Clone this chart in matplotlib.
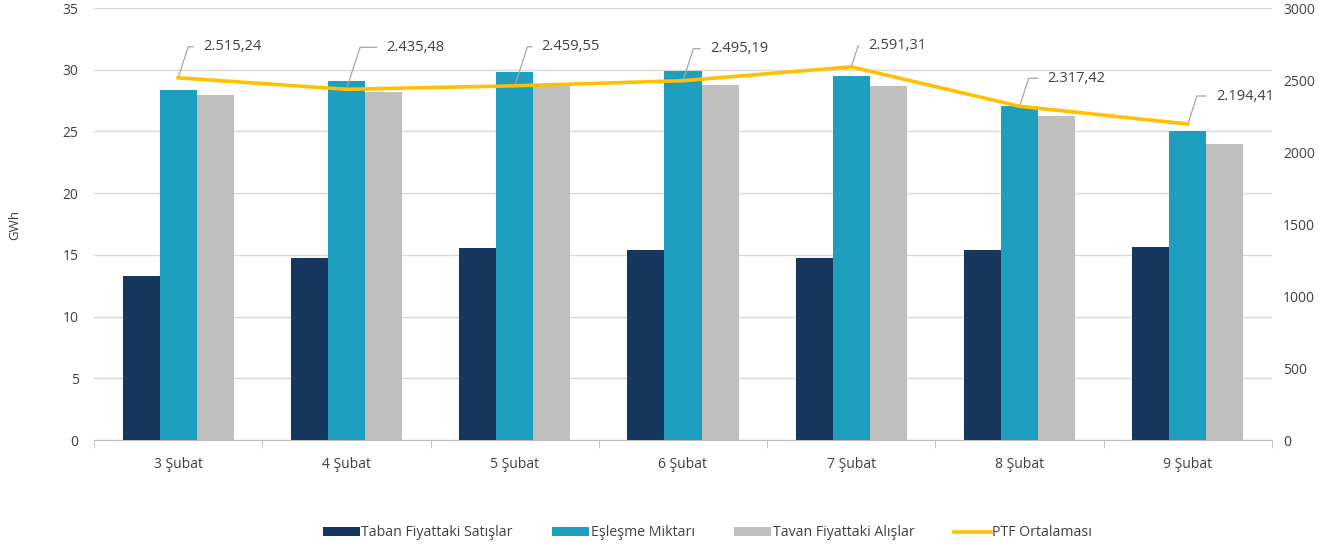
import matplotlib
matplotlib.use('Agg')
import matplotlib.pyplot as plt
import numpy as np

plt.rcParams['font.family'] = ['Open Sans', 'DejaVu Sans']

days = ["3 Şubat", "4 Şubat", "5 Şubat", "6 Şubat", "7 Şubat", "8 Şubat", "9 Şubat"]
taban = [13.29, 14.75, 15.56, 15.40, 14.75, 15.40, 15.64]
esleme = [28.36, 29.09, 29.82, 29.90, 29.50, 27.07, 25.04]
tavan = [27.96, 28.20, 28.85, 28.77, 28.69, 26.26, 23.99]
ptf = [2515.24, 2435.48, 2459.55, 2495.19, 2591.31, 2317.42, 2194.41]

# label placement (pixels from the point)
label_off = [(25, 31), (40, 42), (27, 39), (27, 32), (17, 21), (28, 28), (28, 28)]

c_dark = '#17375e'
c_teal = '#1f9fc0'
c_gray = '#bfbfbf'
c_line = '#ffc000'
c_text = '#404040'


def tr_num(v):
    s = "{:,.2f}".format(v)
    return s.replace(",", "X").replace(".", ",").replace("X", ".")


fig = plt.figure(figsize=(13.3, 5.5), dpi=100)
ax1 = fig.add_axes([94/1330, 110/550, 1178/1330, 432/550])
ax2 = ax1.twinx()

x = np.arange(len(days))
w = 0.22
b1 = ax1.bar(x - w, taban, w, color=c_dark, label="Taban Fiyattaki Satışlar", zorder=3)
b2 = ax1.bar(x, esleme, w, color=c_teal, label="Eşleşme Miktarı", zorder=3)
b3 = ax1.bar(x + w, tavan, w, color=c_gray, label="Tavan Fiyattaki Alışlar", zorder=3)

ax1.set_xlim(-0.5, len(days) - 0.5)
ax1.set_ylim(0, 35)
ax1.set_yticks(np.arange(0, 36, 5))
ax1.yaxis.grid(True, color='#d9d9d9', linewidth=1, zorder=0)
ax1.set_axisbelow(True)
ax1.set_xticks(x)
ax1.set_xticklabels(days)
ax1.set_xticks(np.arange(-0.5, len(days), 1), minor=True)
ax1.tick_params(axis='x', which='major', length=0, pad=12, labelsize=10, labelcolor=c_text)
ax1.tick_params(axis='x', which='minor', length=6, color='#bfbfbf')
ax1.tick_params(axis='y', length=0, pad=11, labelsize=10, labelcolor=c_text)
for s in ['top', 'left', 'right']:
    ax1.spines[s].set_visible(False)
ax1.spines['bottom'].set_color('#bfbfbf')
ax1.set_ylabel("GWh", fontsize=9.5, color=c_text)
ax1.yaxis.set_label_coords(-0.062, 0.498)

ln, = ax2.plot(x, ptf, color=c_line, linewidth=2.6, label="PTF Ortalaması", zorder=4)
ax2.set_ylim(0, 3000)
ax2.set_yticks(np.arange(0, 3001, 500))
ax2.tick_params(axis='y', length=0, pad=8, labelsize=10, labelcolor=c_text)
for s in ax2.spines.values():
    s.set_visible(False)

for i, v in enumerate(ptf):
    dx, dy = label_off[i]
    ax2.annotate(tr_num(v), xy=(x[i], v), xytext=(dx, dy), textcoords='offset pixels',
                 ha='left', va='center', fontsize=10.5, color=c_text,
                 arrowprops=dict(arrowstyle='-', color='#a6a6a6', lw=0.9,
                                 connectionstyle='angle,angleA=0,angleB=72,rad=0',
                                 relpos=(0, 0.5), shrinkA=5, shrinkB=0))

handles = [b1, b2, b3, ln]
leg = fig.legend(handles, [h.get_label() for h in handles], loc='center',
                 bbox_to_anchor=(0.532, 17/550), ncol=4, frameon=False, fontsize=10.2,
                 handlelength=2.6, handleheight=0.5, handletextpad=0.1, columnspacing=2.8)
for t in leg.get_texts():
    t.set_color(c_text)

fig.savefig("out.png", dpi=100)
